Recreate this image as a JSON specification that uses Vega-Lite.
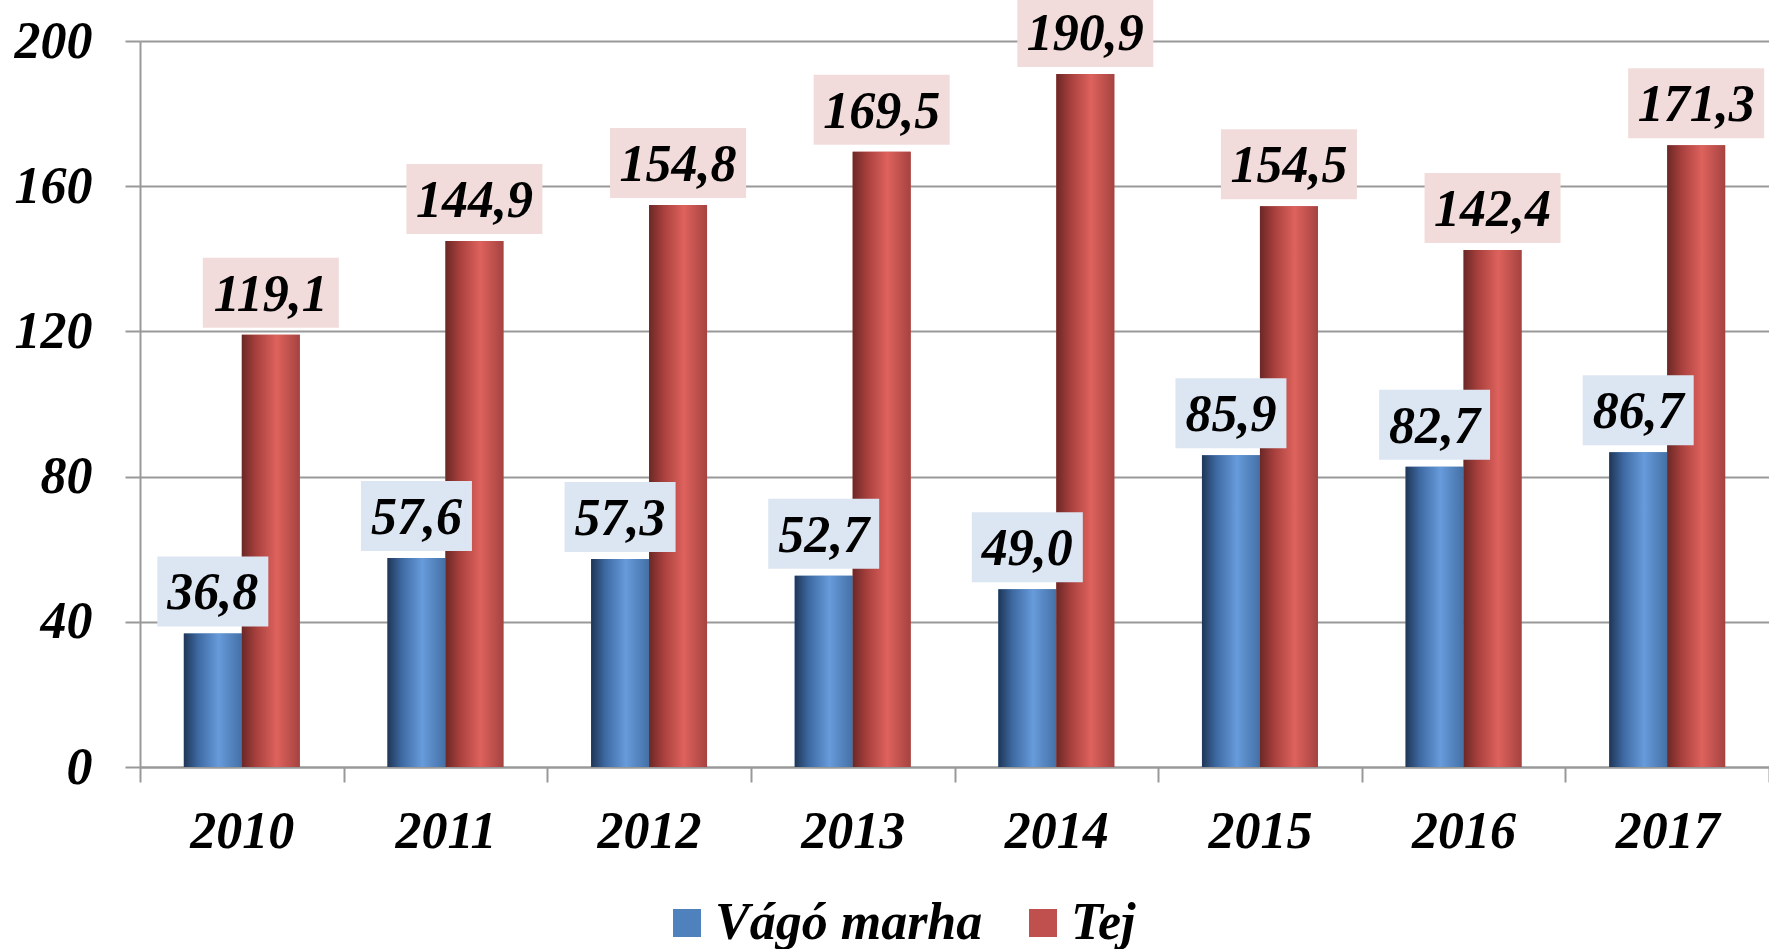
{
  "$schema": "https://vega.github.io/schema/vega-lite/v6.json",
  "width": 1629,
  "height": 726,
  "autosize": {"type": "none"},
  "padding": {"left": 140, "top": 41, "right": 0, "bottom": 182},
  "background": "white",
  "config": {
    "locale": {"number": {"decimal": ",", "thousands": ".", "grouping": [3], "currency": ["", ""]}},
    "view": {"stroke": null},
    "font": "Liberation Serif"
  },
  "data": {
    "values": [
      {"year": "2010", "series": "Vágó marha", "value": 36.8},
      {"year": "2010", "series": "Tej", "value": 119.1},
      {"year": "2011", "series": "Vágó marha", "value": 57.6},
      {"year": "2011", "series": "Tej", "value": 144.9},
      {"year": "2012", "series": "Vágó marha", "value": 57.3},
      {"year": "2012", "series": "Tej", "value": 154.8},
      {"year": "2013", "series": "Vágó marha", "value": 52.7},
      {"year": "2013", "series": "Tej", "value": 169.5},
      {"year": "2014", "series": "Vágó marha", "value": 49.0},
      {"year": "2014", "series": "Tej", "value": 190.9},
      {"year": "2015", "series": "Vágó marha", "value": 85.9},
      {"year": "2015", "series": "Tej", "value": 154.5},
      {"year": "2016", "series": "Vágó marha", "value": 82.7},
      {"year": "2016", "series": "Tej", "value": 142.4},
      {"year": "2017", "series": "Vágó marha", "value": 86.7},
      {"year": "2017", "series": "Tej", "value": 171.3}
    ]
  },
  "encoding": {
    "x": {
      "field": "year", "type": "nominal",
      "scale": {"paddingInner": 0, "paddingOuter": 0},
      "axis": {
        "title": null, "labelAngle": 0, "tickBand": "extent", "tickSize": 15,
        "tickColor": "#999999", "tickWidth": 2, "domainColor": "#999999", "domainWidth": 2,
        "labelPadding": 24, "labelFont": "Liberation Serif", "labelFontSize": 52,
        "labelFontWeight": "bold", "labelFontStyle": "italic", "labelColor": "black", "grid": false
      }
    },
    "xOffset": {
      "field": "series", "type": "nominal", "sort": ["Vágó marha", "Tej"],
      "scale": {"paddingInner": 0, "paddingOuter": 0.756}
    },
    "y": {
      "field": "value", "type": "quantitative",
      "scale": {"domain": [0, 200], "nice": false},
      "axis": {
        "title": null, "values": [0, 40, 80, 120, 160, 200], "tickSize": 15,
        "tickColor": "#999999", "tickWidth": 2, "domainColor": "#999999", "domainWidth": 2,
        "gridColor": "#999999", "gridWidth": 2, "grid": true,
        "labelPadding": 33, "labelFont": "Liberation Serif", "labelFontSize": 52,
        "labelFontWeight": "bold", "labelFontStyle": "italic", "labelColor": "black"
      }
    }
  },
  "layer": [
    {
      "mark": {"type": "bar"},
      "encoding": {
        "color": {
          "field": "series", "type": "nominal", "sort": ["Vágó marha", "Tej"],
          "scale": {"range": ["#4F81BD", "#C0504D"]},
          "legend": {
            "orient": "none", "legendX": 521, "legendY": 856, "direction": "horizontal",
            "title": null, "symbolType": "square", "symbolSize": 784, "symbolStrokeWidth": 0,
            "labelFont": "Liberation Serif", "labelFontSize": 52, "labelFontWeight": "bold",
            "labelFontStyle": "italic", "labelColor": "black", "columnPadding": 34,
            "labelOffset": 2, "labelLimit": 0, "padding": 0
          }
        }
      }
    },
    {
      "transform": [{"filter": "datum.series === 'Vágó marha'"}],
      "mark": {
        "type": "bar",
        "fill": {
          "gradient": "linear", "x1": 0, "y1": 0, "x2": 1, "y2": 0,
          "stops": [
            {"offset": 0, "color": "#1F3656"},
            {"offset": 0.25, "color": "#3E6AA3"},
            {"offset": 0.6, "color": "#679BDB"},
            {"offset": 1, "color": "#4470A6"}
          ]
        }
      }
    },
    {
      "transform": [{"filter": "datum.series === 'Tej'"}],
      "mark": {
        "type": "bar",
        "fill": {
          "gradient": "linear", "x1": 0, "y1": 0, "x2": 1, "y2": 0,
          "stops": [
            {"offset": 0, "color": "#6B2826"},
            {"offset": 0.25, "color": "#A8403D"},
            {"offset": 0.6, "color": "#DE625D"},
            {"offset": 1, "color": "#A54340"}
          ]
        }
      }
    },
    {
      "transform": [{"filter": "datum.series === 'Vágó marha'"}],
      "mark": {
        "type": "point", "shape": "M-1.11,-0.7L1.11,-0.7L1.11,0.7L-1.11,0.7Z",
        "size": 10000, "filled": true, "fill": "#DCE6F2", "opacity": 1, "strokeWidth": 0, "yOffset": -42
      }
    },
    {
      "transform": [{"filter": "datum.series === 'Tej'"}],
      "mark": {
        "type": "point", "shape": "M-1.36,-0.7L1.36,-0.7L1.36,0.7L-1.36,0.7Z",
        "size": 10000, "filled": true, "fill": "#F2DCDB", "opacity": 1, "strokeWidth": 0, "yOffset": -42
      }
    },
    {
      "mark": {
        "type": "text", "font": "Liberation Serif", "fontSize": 52, "fontWeight": "bold",
        "fontStyle": "italic", "baseline": "alphabetic", "dy": -24, "color": "black"
      },
      "encoding": {"text": {"field": "value", "type": "quantitative", "format": ".1f"}}
    }
  ]
}
